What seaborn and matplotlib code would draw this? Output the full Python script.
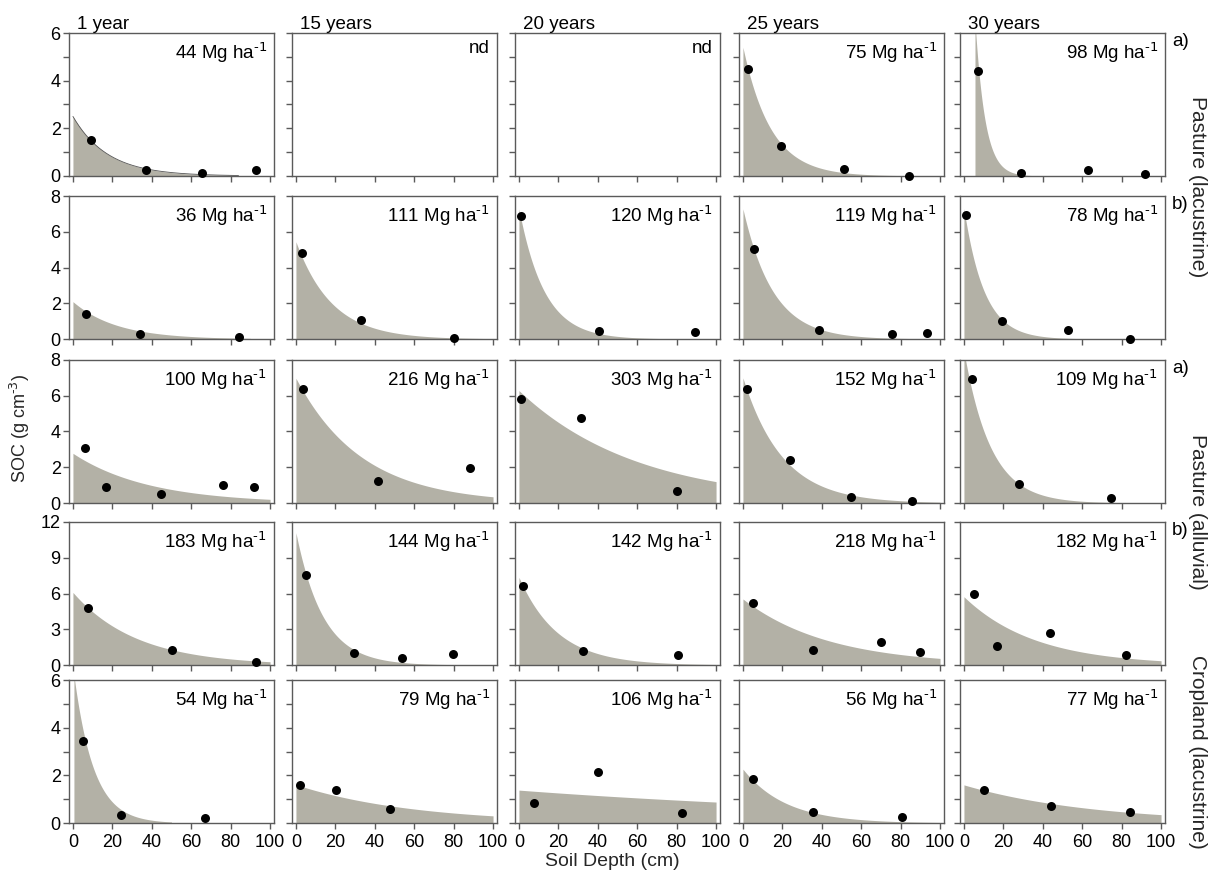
import numpy as np
import pandas as pd
import matplotlib
matplotlib.use("Agg")
import matplotlib.pyplot as plt
import seaborn as sns

# ---------------- data ----------------
col_titles = ["1 year", "15 years", "20 years", "25 years", "30 years"]
stocks_row1 = ["44", "nd", "nd", "75", "98"]
stocks_row2 = ["36", "111", "120", "119", "78"]
stocks_row3 = ["100", "216", "303", "152", "109"]
stocks_row4 = ["183", "144", "142", "218", "182"]
stocks_row5 = ["54", "79", "106", "56", "77"]

# measured SOC points (depth cm, SOC g cm-3)
row1_x = [[9.0, 37, 65.6, 93], [], [], [2.7, 19.5, 51.2, 84.4], [7.3, 28.9, 62.8, 91.7]]
row1_y = [[1.49, 0.25, 0.14, 0.27], [], [], [4.49, 1.26, 0.29, 0.0], [4.42, 0.11, 0.24, 0.08]]
row2_x = [[6.8, 34, 84], [2.9, 32.8, 80], [0.9, 40.7, 89.5], [5.8, 38.5, 75.5, 93.3], [0.9, 19.2, 52.6, 84.3]]
row2_y = [[1.40, 0.30, 0.11], [4.82, 1.04, 0.04], [6.9, 0.45, 0.38], [5.05, 0.53, 0.28, 0.34], [6.96, 0.98, 0.51, 0.02]]
row3_x = [[6.1, 16.6, 44.7, 76, 92], [3.7, 41.6, 88.2], [0.9, 31.4, 80.4], [2, 24, 55, 86], [4, 27.7, 74.6]]
row3_y = [[3.10, 0.90, 0.52, 0.99, 0.90], [6.4, 1.23, 1.94], [5.80, 4.74, 0.67], [6.4, 2.4, 0.35, 0.1], [6.95, 1.07, 0.26]]
row4_x = [[7.5, 50.3, 92.9], [5.2, 29.2, 53.6, 79.9], [2.3, 32.6, 80.8], [5.3, 35.7, 70.2, 90], [4.9, 16.9, 43.6, 82]]
row4_y = [[4.78, 1.23, 0.28], [7.55, 1.0, 0.56, 0.9], [6.6, 1.2, 0.81], [5.2, 1.23, 1.93, 1.06], [5.93, 1.62, 2.66, 0.84]]
row5_x = [[5.1, 24.4, 67.1], [2.2, 20.3, 47.5], [7.6, 40, 82.5], [4.9, 35.4, 80.5], [10, 44, 84]]
row5_y = [[3.44, 0.33, 0.2], [1.58, 1.37, 0.57], [0.84, 2.15, 0.42], [1.85, 0.47, 0.25], [1.38, 0.73, 0.45]]

# fitted exponential profile: SOC at start depth, decay rate, depth range
row1_top = [2.5, None, None, 5.4, 6.5]
row1_k = [0.057, None, None, 0.071, 0.2]
row1_start = [0, None, None, 0, 5.6]
row1_end = [84, None, None, 100, 100]
row2_top = [2.09, 5.44, 7.28, 7.28, 7.3]
row2_k = [0.045, 0.055, 0.078, 0.066, 0.098]
row2_start = [0, 0, 0, 0, 0]
row2_end = [90, 100, 100, 100, 100]
row3_top = [2.78, 6.98, 6.29, 7.0, 8.5]
row3_k = [0.026, 0.030, 0.0166, 0.05, 0.074]
row3_start = [0, 0, 0, 0, 0]
row3_end = [100, 100, 100, 100, 100]
row4_top = [6.09, 11.1, 7.36, 5.54, 5.73]
row4_k = [0.031, 0.073, 0.051, 0.023, 0.0277]
row4_start = [0, 0, 0, 0, 0]
row4_end = [100, 100, 100, 100, 100]
row5_top = [6.2, 1.61, 1.38, 2.26, 1.60]
row5_k = [0.1, 0.0168, 0.0045, 0.046, 0.0152]
row5_start = [0.5, 0, 0, 0, 0]
row5_end = [50, 100, 100, 100, 100]

row_ymax = [6, 8, 8, 12, 6]
row_major = [2, 2, 2, 3, 2]
row_minor = [1, None, None, None, 1]
row_tags = ["a)", "b)", "a)", "b)", None]
x_ticks = [0, 20, 40, 60, 80, 100]

# ---------------- style ----------------
sns.set_theme(style="white")
plt.rcParams["font.family"] = ["Liberation Sans", "DejaVu Sans"]
plt.rcParams["mathtext.default"] = "regular"

FILL = "#b3b1a6"
SPINE = "#5a5a5a"
FS = 13.5

W, H = 1213, 872
fig = plt.figure(figsize=(W / 100, H / 100), dpi=100)

col_left = [69, 292, 515, 739, 960]
row_top = [33, 196, 360, 522, 680]
pw, ph = 205, 143

rows_x = [row1_x, row2_x, row3_x, row4_x, row5_x]
rows_y = [row1_y, row2_y, row3_y, row4_y, row5_y]
rows_top = [row1_top, row2_top, row3_top, row4_top, row5_top]
rows_k = [row1_k, row2_k, row3_k, row4_k, row5_k]
rows_s = [row1_start, row2_start, row3_start, row4_start, row5_start]
rows_e = [row1_end, row2_end, row3_end, row4_end, row5_end]
rows_lab = [stocks_row1, stocks_row2, stocks_row3, stocks_row4, stocks_row5]

for r in range(5):
    for c in range(5):
        ax = fig.add_axes([col_left[c] / W, 1 - (row_top[r] + ph) / H, pw / W, ph / H])
        ax.set_facecolor("white")
        top = rows_top[r][c]
        if top is not None:
            xs = np.linspace(rows_s[r][c], rows_e[r][c], 300)
            ys = top * np.exp(-rows_k[r][c] * (xs - rows_s[r][c]))
            ax.fill_between(xs, 0, ys, color=FILL, linewidth=0, zorder=1)
            if r == 0 and c == 0:
                ax.plot(xs, ys, color="#555555", linewidth=0.6, zorder=2)
        if len(rows_x[r][c]) > 0:
            df = pd.DataFrame({"depth": rows_x[r][c], "soc": rows_y[r][c]})
            sns.scatterplot(data=df, x="depth", y="soc", ax=ax, color="black",
                            s=42, edgecolor="black", linewidth=0, zorder=3,
                            clip_on=False)
        ax.set_xlim(-2, 102)
        ax.set_ylim(0, row_ymax[r])
        ax.set_xlabel("")
        ax.set_ylabel("")
        ax.set_xticks(x_ticks)
        ax.set_yticks(np.arange(0, row_ymax[r] + 0.01, row_major[r]))
        if row_minor[r]:
            ax.set_yticks(np.arange(0, row_ymax[r] + 0.01, row_minor[r]), minor=True)
        for sp in ax.spines.values():
            sp.set_color(SPINE)
            sp.set_linewidth(1.0)
        ax.tick_params(axis="both", which="both", direction="out", length=4,
                       width=1, color=SPINE, labelsize=13, pad=2, labelcolor="black")
        ax.tick_params(axis="y", which="minor", length=4, width=1, color=SPINE, left=True)
        ax.tick_params(axis="x", bottom=True, pad=4)
        ax.tick_params(axis="y", left=True)
        if c != 0:
            ax.set_yticklabels([])
        if r != 4:
            ax.set_xticklabels([])
        lab = rows_lab[r][c]
        txt = "nd" if lab == "nd" else lab + r" Mg ha$^{\text{-1}}$"
        ax.text(0.965, 0.95, txt, transform=ax.transAxes, ha="right", va="top",
                fontsize=FS, color="black")
        if r == 0:
            ax.text(0.04, 1.0, col_titles[c], transform=ax.transAxes, ha="left",
                    va="bottom", fontsize=FS, color="black")
        if c == 4 and row_tags[r]:
            ax.text(1.035, 1.0, row_tags[r], transform=ax.transAxes, ha="left",
                    va="top", fontsize=FS, color="black")

fig.text(20 / W, 1 - 428 / H, r"SOC (g cm$^{\text{-3}}$)", rotation=90,
         ha="center", va="center", fontsize=13)
fig.text(612 / W, 1 - 861 / H, "Soil Depth (cm)", ha="center", va="center", fontsize=14)
fig.text(1197 / W, 1 - 187 / H, "Pasture (lacustrine)", rotation=-90,
         ha="center", va="center", fontsize=15)
fig.text(1197 / W, 1 - 512 / H, "Pasture (alluvial)", rotation=-90,
         ha="center", va="center", fontsize=15)
fig.text(1197 / W, 1 - 752 / H, "Cropland (lacustrine)", rotation=-90,
         ha="center", va="center", fontsize=15)

fig.savefig("out.png", dpi=100, facecolor="white")
